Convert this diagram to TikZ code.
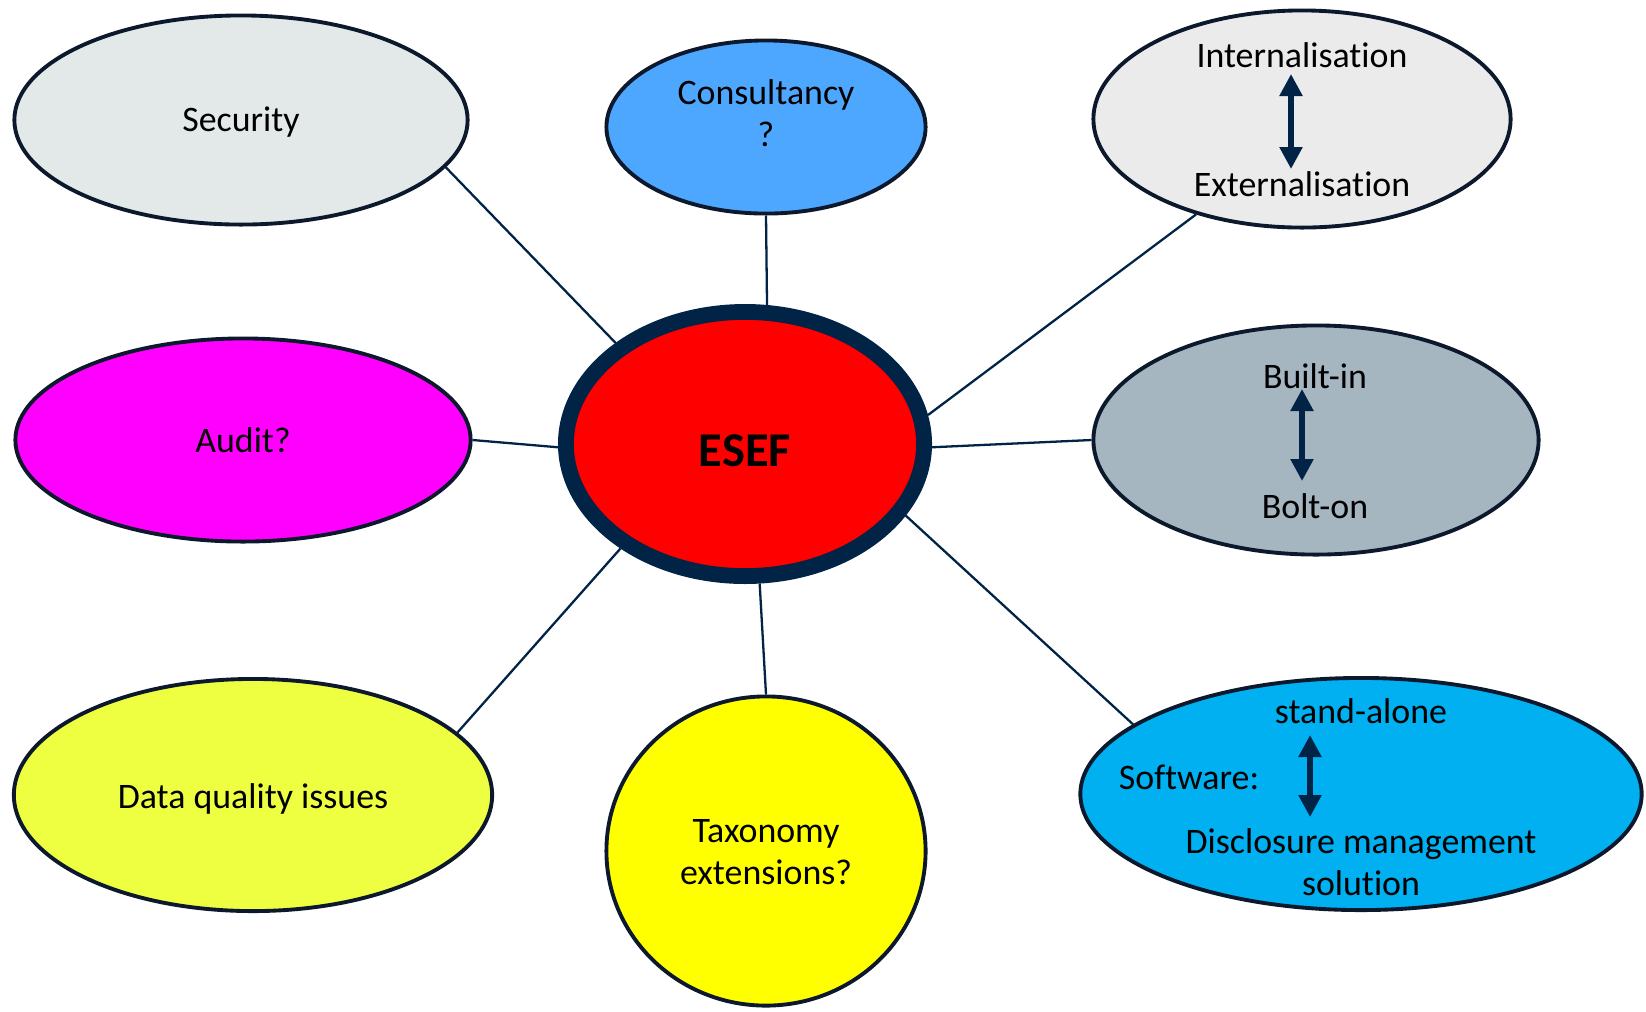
\documentclass[tikz,border=0pt]{standalone}
\usepackage{fontspec}
\setmainfont[Ligatures=NoCommon]{Carlito}
\usetikzlibrary{shapes.geometric,arrows.meta,backgrounds}
\definecolor{navy}{RGB}{0,35,70}
\definecolor{edge}{RGB}{12,24,44}
\definecolor{secfill}{RGB}{227,233,233}
\definecolor{consfill}{RGB}{78,167,255}
\definecolor{intfill}{RGB}{235,235,235}
\definecolor{audfill}{RGB}{255,0,255}
\definecolor{builtfill}{RGB}{165,182,193}
\definecolor{dqfill}{RGB}{238,255,66}
\definecolor{taxfill}{RGB}{255,255,0}
\definecolor{softfill}{RGB}{0,176,240}
\definecolor{esefred}{RGB}{255,0,0}
\begin{document}
\begin{tikzpicture}[x=0.01cm,y=-0.01cm,
  bub/.style={ellipse,draw=edge,line width=1.1pt,inner sep=0pt,align=center,
    font=\fontsize{10.2}{12}\selectfont},
  lbl/.style={inner sep=0pt,align=center,font=\fontsize{10.2}{12}\selectfont},
  link/.style={draw=navy,line width=0.65pt},
  dbl/.style={navy,line width=1.5pt,
    {Triangle[length=2.2mm,width=2.2mm]}-{Triangle[length=2.2mm,width=2.2mm]}}]
\useasboundingbox (0,0) rectangle (1646,1011);
% central node
\node[ellipse,draw=navy,line width=4.5pt,fill=esefred,inner sep=0pt,
  minimum width=3.58cm,minimum height=2.64cm] (esef) at (745,444) {};
\node[inner sep=0pt,font=\fontsize{13.8}{16}\selectfont\bfseries] (eseft) at (745,451) {ESEF};
% outer nodes
\node[bub,fill=secfill,minimum width=4.53cm,minimum height=2.09cm] (sec) at (241,120) {};
\node[lbl] (sect) at (241,122) {Security};
\node[bub,fill=consfill,minimum width=3.19cm,minimum height=1.73cm] (cons) at (766,127) {};
\node[lbl] (const) at (766,113) {Consultancy\\?};
\node[bub,fill=intfill,minimum width=4.17cm,minimum height=2.17cm] (int) at (1302,119) {};
\node[lbl] (intt) at (1302,55) {Internalisation};
\node[lbl] (extt) at (1302,184) {Externalisation};
\node[bub,fill=audfill,minimum width=4.55cm,minimum height=2.03cm] (aud) at (243,440) {Audit?};
\node[bub,fill=builtfill,minimum width=4.45cm,minimum height=2.29cm] (bui) at (1316,440) {};
\node[lbl] (buit) at (1315,376) {Built-in};
\node[lbl] (bolt) at (1315,506) {Bolt-on};
\node[bub,fill=dqfill,minimum width=4.78cm,minimum height=2.32cm] (dq) at (253,795) {};
\node[lbl] (dqt) at (253,799) {Data quality issues};
\node[bub,fill=taxfill,minimum width=3.19cm,minimum height=3.09cm] (tax) at (766,851) {};
\node[lbl] (taxt) at (766,852) {Taxonomy\\extensions?};
\node[bub,fill=softfill,minimum width=5.61cm,minimum height=2.32cm] (soft) at (1361,794) {};
\node[lbl] (standt) at (1361,711) {stand-alone};
\node[lbl] (softt) at (1189,777) {Software:};
\node[lbl] (dmst) at (1361,862) {Disclosure management\\solution};
% double arrows
\coordinate (ia) at (1291,74);
\coordinate (ib) at (1291,169);
\draw[dbl] (ia) -- (ib);
\coordinate (ba) at (1302,389);
\coordinate (bb) at (1302,481);
\draw[dbl] (ba) -- (bb);
\coordinate (sa) at (1310,735);
\coordinate (sb) at (1310,817);
\draw[dbl] (sa) -- (sb);
% connectors
\begin{scope}[on background layer]
\draw[link] (sec.-13.5) -- (esef.142.9);
\draw[link] (cons.-90) -- (esef.81.1);
\draw[link] (int.-138.1) -- (esef.9.6);
\draw[link] (aud.0) -- (esef.181.2);
\draw[link] (bui.180) -- (esef.-1.2);
\draw[link] (dq.17.5) -- (esef.-140.2);
\draw[link] (tax.90) -- (esef.-84.3);
\draw[link] (soft.163.8) -- (esef.-24.7);
\end{scope}
\end{tikzpicture}
\end{document}
